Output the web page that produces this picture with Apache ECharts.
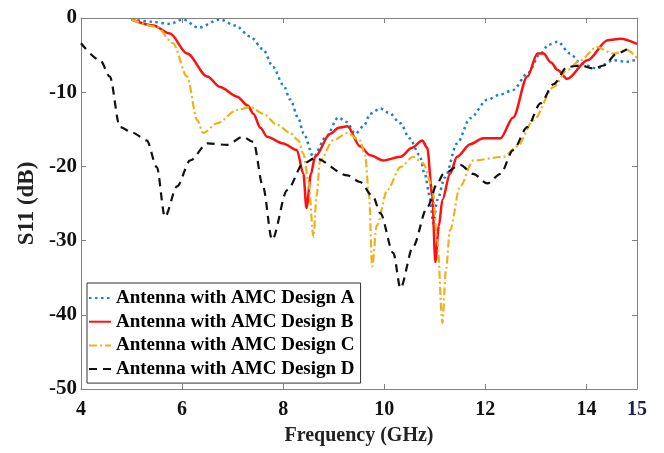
<!DOCTYPE html>
<html>
<head>
<meta charset="utf-8">
<script src="https://cdn.jsdelivr.net/npm/echarts@6/dist/echarts.min.js"></script>
<style>html,body{margin:0;padding:0;background:#fff}#c{width:664px;height:453px}</style>
</head>
<body>
<div id="c"></div>
<script>
const seriesNames = ['Antenna with AMC Design A','Antenna with AMC Design B','Antenna with AMC Design C','Antenna with AMC Design D'];
const xTickValues = [4,6,8,10,12,14];
const xLabelValues = [4,6,8,10,12,14,15];

const freqA = [5.0,5.4,5.76,6.02,6.32,6.75,7.05,7.35,7.6,7.8,8.0,8.14,8.3,8.4,8.6,8.85,9.09,9.25,9.43,9.6,9.72,9.92,10.1,10.32,10.5,10.7,10.8,10.9,10.97,11.05,11.2,11.44,11.7,12.04,12.3,12.55,12.83,13.09,13.25,13.43,13.68,13.88,14.2,14.53,14.8,15.0];
const s11A  = [-0.2,-0.5,-0.8,-0.2,-1.3,-0.2,-1.0,-2.5,-4.2,-6.6,-9.0,-11.0,-13.5,-15.5,-18.7,-16.0,-13.4,-14.0,-15.6,-14.5,-12.9,-12.2,-12.8,-14.2,-16.2,-18.5,-21.0,-24.0,-27.7,-24.5,-21.5,-16.9,-13.5,-11.0,-10.3,-9.7,-7.5,-4.8,-3.6,-3.2,-4.8,-6.1,-6.8,-5.7,-5.9,-5.6];

const freqB = [5.0,5.43,5.76,6.1,6.5,6.75,7.09,7.3,7.41,7.55,7.68,8.0,8.27,8.4,8.46,8.55,8.63,8.93,9.1,9.27,9.52,9.72,9.98,10.32,10.55,10.75,10.85,10.95,11.01,11.08,11.15,11.3,11.44,11.7,11.96,12.3,12.55,12.83,13.03,13.15,13.3,13.43,13.62,14.02,14.42,14.67,15.0];
const s11B  = [-0.2,-1.0,-2.1,-4.8,-7.9,-9.3,-10.6,-11.8,-12.9,-14.8,-16.0,-16.9,-17.8,-21.0,-25.6,-21.0,-18.7,-15.6,-14.8,-14.6,-17.3,-18.5,-19.2,-18.7,-17.5,-16.5,-17.5,-24.0,-32.9,-28.0,-24.5,-21.0,-18.7,-17.0,-16.2,-16.2,-13.4,-7.9,-4.8,-4.8,-6.0,-7.0,-8.2,-5.7,-3.0,-2.8,-3.5];

const freqC = [5.0,5.5,5.82,6.1,6.3,6.42,6.69,7.09,7.35,7.6,7.88,8.14,8.3,8.4,8.5,8.6,8.66,8.73,8.99,9.27,9.52,9.62,9.7,9.76,9.85,10.06,10.32,10.57,10.77,10.95,11.05,11.15,11.22,11.3,11.5,11.76,12.36,12.63,12.95,13.35,13.62,13.88,14.2,14.53,14.8,15.0];
const s11C  = [-0.2,-1.2,-3.4,-7.9,-13.8,-15.5,-14.2,-12.4,-12.0,-12.9,-14.4,-15.5,-16.5,-18.3,-22.0,-29.5,-24.0,-19.2,-16.5,-15.5,-16.5,-18.5,-24.0,-33.5,-28.0,-23.2,-20.1,-18.7,-19.6,-22.7,-30.0,-41.1,-34.0,-28.6,-22.7,-19.2,-18.7,-17.3,-13.8,-9.3,-7.0,-5.7,-3.9,-4.8,-4.3,-5.4];

const freqD = [4.0,4.38,4.57,4.77,5.03,5.3,5.5,5.66,5.9,6.16,6.5,6.89,7.2,7.41,7.6,7.78,8.08,8.4,8.63,9.27,9.52,9.78,9.92,10.18,10.32,10.57,10.85,11.05,11.17,11.5,11.76,12.04,12.3,12.55,12.83,13.09,13.35,13.62,13.88,14.14,14.34,14.6,14.8];
const s11D  = [-3.4,-5.7,-7.9,-14.7,-15.5,-16.5,-20.1,-26.8,-22.7,-19.2,-16.9,-17.1,-16.0,-16.7,-22.7,-29.9,-23.2,-19.6,-18.9,-21.2,-22.1,-24.1,-26.3,-31.7,-36.4,-30.8,-25.5,-22.3,-21.0,-19.8,-21.0,-22.3,-21.0,-17.8,-14.7,-11.5,-8.9,-6.6,-6.4,-6.8,-6.4,-4.8,-4.2];

const zip = (xs, ys) => xs.map((x, i) => [x, ys[i]]);
const FONT = "'Liberation Serif','Times New Roman',serif";
const axisGray = '#808080';

const chart = echarts.init(document.getElementById('c'), null, {renderer: 'canvas'});
const mkSeries = (name, data, color, type, width) => ({
  name, type: 'line', data, showSymbol: false, symbol: 'none',
  smooth: 0.3, smoothMonotone: 'x',
  lineStyle: {color, width, type, cap: 'butt'},
  itemStyle: {color}, z: 3
});

chart.setOption({
  animation: false,
  backgroundColor: '#fff',
  grid: {left: 81, right: 27, top: 18, bottom: 64, containLabel: false},
  legend: {
    show: true,
    orient: 'vertical', left: 87, top: 283,
    data: seriesNames,
    backgroundColor: '#fff', borderColor: '#333', borderWidth: 1,
    padding: [5, 6, 4, 1], itemGap: 3.7, itemWidth: 22, itemHeight: 14,
    itemStyle: {color: 'rgba(0,0,0,0)', borderWidth: 0, opacity: 0},
    textStyle: {fontFamily: FONT, fontWeight: 'bold', fontSize: 19, color: '#000', lineHeight: 20},
    z: 10
  },
  xAxis: [{
    type: 'value', min: 4, max: 15, interval: 1,
    name: 'Frequency (GHz)', nameLocation: 'middle', nameGap: 37,
    nameTextStyle: {fontFamily: FONT, fontWeight: 'bold', fontSize: 20, color: '#222'},
    axisLine: {show: true, onZero: false, lineStyle: {color: axisGray, width: 1}},
    axisTick: {show: true, inside: true, length: 5, customValues: xTickValues, lineStyle: {color: axisGray}},
    axisLabel: {margin: 11, fontFamily: FONT, fontWeight: 'bold', fontSize: 20,
      formatter: (v) => (xLabelValues.indexOf(v) >= 0 ? String(v) : ''),
      color: (v) => (Number(v) === 15 ? '#1c1c5c' : '#111')},
    splitLine: {show: false}
  }, {
    type: 'value', min: 4, max: 15, interval: 1, position: 'top',
    axisLine: {show: true, onZero: false, lineStyle: {color: axisGray, width: 1}},
    axisTick: {show: true, inside: true, length: 5, customValues: xTickValues, lineStyle: {color: axisGray}},
    axisLabel: {show: false}, splitLine: {show: false}
  }],
  yAxis: [{
    type: 'value', min: -50, max: 0, interval: 10,
    name: 'S11 (dB)', nameLocation: 'middle', nameGap: 42, nameRotate: 90,
    nameTextStyle: {fontFamily: FONT, fontWeight: 'bold', fontSize: 23, color: '#222'},
    axisLine: {show: true, onZero: false, lineStyle: {color: axisGray, width: 1}},
    axisTick: {show: true, inside: true, length: 5, lineStyle: {color: axisGray}},
    axisLabel: {margin: 4, fontFamily: FONT, fontWeight: 'bold', fontSize: 21, color: '#111'},
    splitLine: {show: false}
  }, {
    type: 'value', min: -50, max: 0, interval: 10, position: 'right',
    axisLine: {show: true, onZero: false, lineStyle: {color: axisGray, width: 1}},
    axisTick: {show: true, inside: true, length: 5, lineStyle: {color: axisGray}},
    axisLabel: {show: false}, splitLine: {show: false}
  }],
  series: [
    mkSeries(seriesNames[0], zip(freqA, s11A), '#1f7fd0', [2.5, 3.5], 2.5),
    mkSeries(seriesNames[1], zip(freqB, s11B), '#ff1010', 'solid', 2.5),
    mkSeries(seriesNames[2], zip(freqC, s11C), '#edb120', [8, 3, 2, 3], 2.2),
    mkSeries(seriesNames[3], zip(freqD, s11D), '#111111', [8, 6], 2.2)
  ]
});
</script>
</body>
</html>
